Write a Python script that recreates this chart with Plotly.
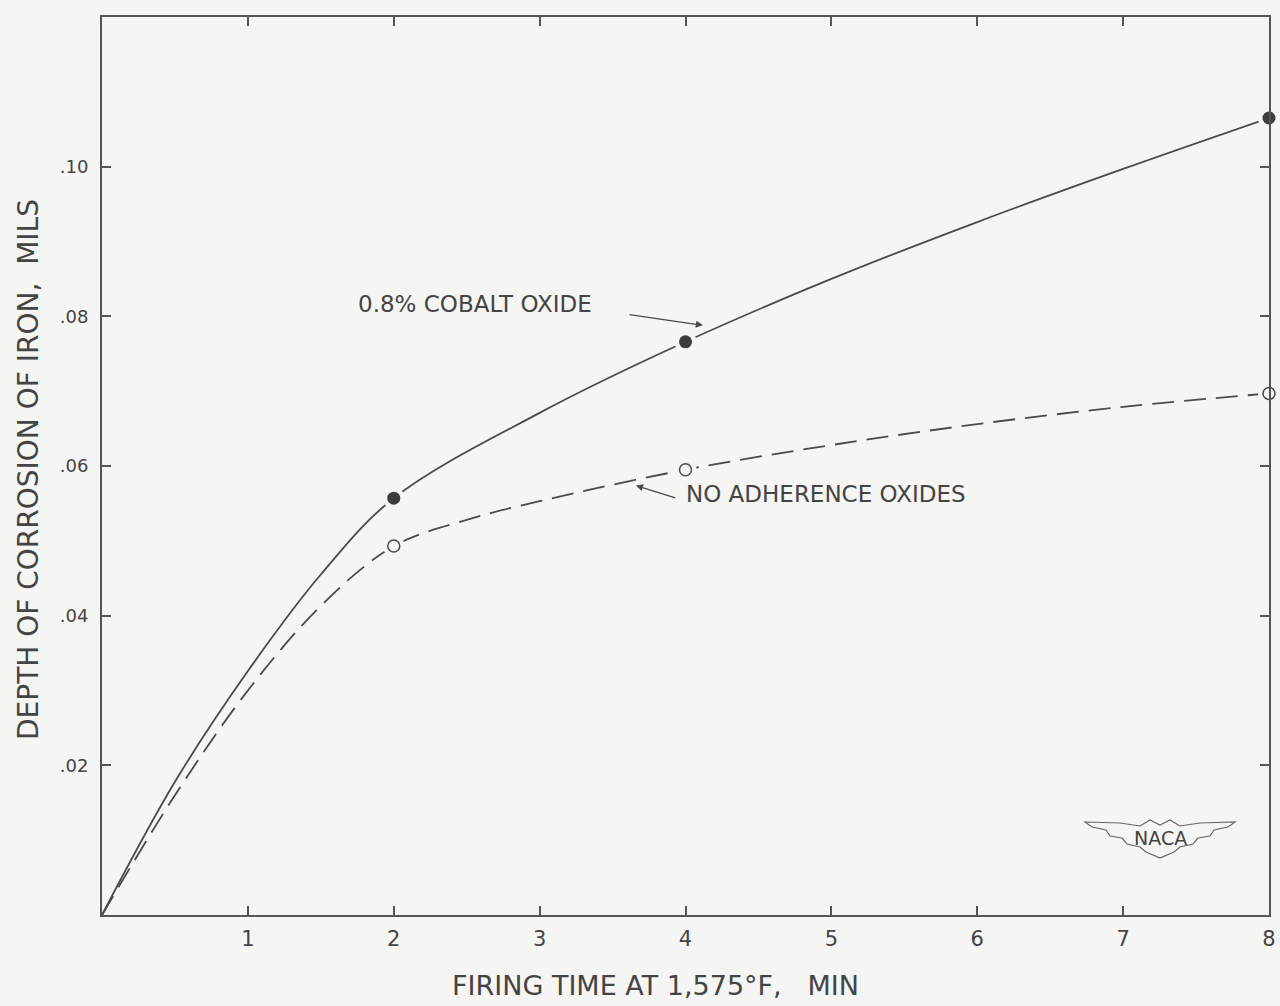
import plotly.graph_objects as go

# ---- data ----
cobalt_x = [0, 0.5, 1, 1.5, 2, 3, 4, 5, 6, 7, 8]
cobalt_curve = [0, 0.0178, 0.0326, 0.0455, 0.0557, 0.0671, 0.0766, 0.0850, 0.0926, 0.0997, 0.1065]
noadh_x = [0, 0.5, 1, 1.5, 2, 2.5, 3, 4, 5, 6, 7, 8]
noadh_curve = [0, 0.0160, 0.0300, 0.0413, 0.0493, 0.0528, 0.0553, 0.0595, 0.0628, 0.0656, 0.0679, 0.0697]

point_x = [2, 4, 8]
cobalt_pts = [0.0557, 0.0766, 0.1065]
noadh_pts = [0.0493, 0.0595, 0.0697]

x_ticks = [1, 2, 3, 4, 5, 6, 7, 8]
x_ticktext = ["1", "2", "3", "4", "5", "6", "7", "8"]
y_ticks = [0.02, 0.04, 0.06, 0.08, 0.10]
y_ticktext = [".02", ".04", ".06", ".08", ".10"]

# ---- layout geometry ----
W, H = 1280, 1006
L, R, T, B = 102, 1269, 17, 915
BG = "#f5f5f4"
INK = "#4a4a4a"
FONT = "DejaVu Sans"


def px(xp):
    return (xp - L) / (R - L)


def py(yp):
    return (B - yp) / (B - T)


fig = go.Figure()

fig.add_trace(go.Scatter(x=cobalt_x, y=cobalt_curve, mode="lines",
                         line=dict(color=INK, width=1.8, shape="spline"),
                         hoverinfo="skip", showlegend=False))
fig.add_trace(go.Scatter(x=noadh_x, y=noadh_curve, mode="lines",
                         line=dict(color=INK, width=1.8, shape="spline", dash="22px,10px"),
                         hoverinfo="skip", showlegend=False))
# halos to produce small gaps around the plotted points
for ys in (cobalt_pts, noadh_pts):
    fig.add_trace(go.Scatter(x=point_x, y=ys, mode="markers",
                             marker=dict(size=22, color=BG, line=dict(width=0)),
                             cliponaxis=False, hoverinfo="skip", showlegend=False))
fig.add_trace(go.Scatter(x=point_x, y=cobalt_pts, mode="markers",
                         marker=dict(size=13, color="#3c3c3c", line=dict(width=0)),
                         cliponaxis=False, showlegend=False))
fig.add_trace(go.Scatter(x=point_x, y=noadh_pts, mode="markers",
                         marker=dict(size=12, color=BG, line=dict(width=1.5, color=INK)),
                         cliponaxis=False, showlegend=False))

axis_common = dict(ticks="inside", ticklen=9, tickwidth=1.5, tickcolor="#555",
                   showline=True, linewidth=2, linecolor="#555", mirror="ticks",
                   showgrid=False, zeroline=False, automargin=False)
fig.update_xaxes(range=[0, 8], tickvals=x_ticks, ticktext=x_ticktext,
                 tickfont=dict(size=21, color="#444", family=FONT),
                 ticklabelstandoff=4, **axis_common)
fig.update_yaxes(range=[0, 0.12], tickvals=y_ticks, ticktext=y_ticktext,
                 tickfont=dict(size=18, color="#444", family=FONT),
                 ticklabelstandoff=8, **axis_common)


def label(xp, yp, text, size, angle=0):
    return dict(x=px(xp), y=py(yp), xref="paper", yref="paper", showarrow=False,
                xanchor="center", yanchor="middle", textangle=angle, text=text,
                font=dict(size=size, color="#444", family=FONT))


annotations = [
    label(655, 985, "FIRING TIME AT 1,575°F,\u00a0\u00a0\u00a0MIN", 27),
    label(29, 470, "DEPTH OF CORROSION OF IRON,\u00a0\u00a0MILS", 28, -90),
    label(475, 304, "0.8% COBALT OXIDE", 23),
    label(826, 494, "NO ADHERENCE OXIDES", 23),
    label(1160, 838, "NACA", 19),
    # arrows
    dict(x=4.12, y=0.0788, xref="x", yref="y", ax=-75, ay=-11, axref="pixel", ayref="pixel",
         showarrow=True, arrowhead=2, arrowsize=1.1, arrowwidth=1.3, arrowcolor=INK, text=""),
    dict(x=3.66, y=0.0574, xref="x", yref="y", ax=41, ay=13, axref="pixel", ayref="pixel",
         showarrow=True, arrowhead=2, arrowsize=1.1, arrowwidth=1.3, arrowcolor=INK, text=""),
]

# NACA wing outline (decorative)
wing_pts = [(1085, 822), (1120, 823), (1140, 826), (1150, 820), (1160, 825), (1170, 820), (1180, 826),
            (1200, 823), (1235, 822), (1228, 827), (1214, 830), (1210, 836), (1198, 838), (1193, 844),
            (1180, 847), (1174, 852), (1160, 858), (1146, 852), (1140, 847), (1127, 844),
            (1122, 838), (1110, 836), (1106, 830), (1092, 827)]
path = "M " + " L ".join(f"{px(a):.5f},{py(b):.5f}" for a, b in wing_pts) + " Z"

fig.update_layout(
    width=W, height=H,
    margin=dict(l=L, r=W - R, t=T, b=H - B, pad=0, autoexpand=False),
    paper_bgcolor=BG, plot_bgcolor=BG,
    font=dict(family=FONT, color="#444"),
    annotations=annotations,
    shapes=[dict(type="path", path=path, xref="paper", yref="paper",
                 line=dict(color="#666", width=1.2), fillcolor="rgba(0,0,0,0)", layer="below")],
    showlegend=False,
)

fig.write_html("out.html", config={"displayModeBar": False},
               post_script="document.body.style.margin='0';document.body.style.padding='0';"
                           "document.body.style.overflow='hidden';")
